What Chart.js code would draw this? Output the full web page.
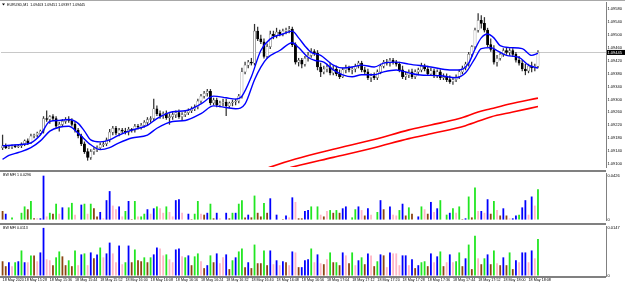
<!DOCTYPE html>
<html>
<head>
<meta charset="utf-8">
<script src="https://cdn.jsdelivr.net/npm/chart.js@4.4.0/dist/chart.umd.min.js"></script>
<style>
html, body { margin: 0; padding: 0; background: #fff; }
#wrap { position: relative; width: 625px; height: 285px; overflow: hidden; }
#wrap canvas { position: absolute; left: 0; }
.sep { position: absolute; left: 0; width: 606px; height: 2px; background: #808080; }
</style>
</head>
<body>
<div id="wrap">
  <canvas id="main" width="625" height="170" style="top:0"></canvas>
  <canvas id="mfi1" width="625" height="52" style="top:171px"></canvas>
  <canvas id="mfi2" width="625" height="61" style="top:224px"></canvas>
  <div class="sep" style="top:0;height:1px;width:625px;background:#a8a8a8"></div>
  <div class="sep" style="top:170px"></div>
  <div class="sep" style="top:223px"></div>
  <div class="sep" style="top:276px"></div>
</div>
<script>
// EURUSD M1, 18 May 2020, one candle per minute from 15:21
const openP = [1.09151,1.09157,1.09151,1.09154,1.09157,1.09154,1.09157,1.09163,1.09172,1.09166,
1.09187,1.09190,1.09196,1.09202,1.09241,1.09238,1.09247,1.09241,1.09217,1.09223,
1.09232,1.09238,1.09235,1.09223,1.09205,1.09187,1.09163,1.09139,1.09121,1.09139,
1.09145,1.09151,1.09160,1.09163,1.09175,1.09199,1.09211,1.09196,1.09205,1.09202,
1.09199,1.09208,1.09205,1.09217,1.09214,1.09220,1.09229,1.09238,1.09241,1.09271,
1.09256,1.09250,1.09256,1.09244,1.09247,1.09253,1.09259,1.09247,1.09253,1.09259,
1.09265,1.09271,1.09277,1.09295,1.09310,1.09319,1.09325,1.09289,1.09298,1.09283,
1.09289,1.09292,1.09280,1.09289,1.09292,1.09295,1.09310,1.09385,1.09406,1.09415,
1.09412,1.09511,1.09487,1.09478,1.09433,1.09463,1.09502,1.09496,1.09508,1.09502,
1.09511,1.09514,1.09517,1.09469,1.09415,1.09421,1.09409,1.09427,1.09436,1.09448,
1.09442,1.09400,1.09385,1.09394,1.09400,1.09382,1.09394,1.09379,1.09370,1.09391,
1.09397,1.09391,1.09394,1.09403,1.09412,1.09391,1.09385,1.09367,1.09373,1.09367,
1.09385,1.09403,1.09415,1.09412,1.09421,1.09415,1.09409,1.09391,1.09370,1.09376,
1.09385,1.09370,1.09385,1.09391,1.09403,1.09394,1.09379,1.09388,1.09373,1.09385,
1.09367,1.09370,1.09361,1.09355,1.09361,1.09370,1.09385,1.09397,1.09409,1.09439,
1.09463,1.09514,1.09544,1.09535,1.09514,1.09469,1.09454,1.09415,1.09427,1.09439,
1.09451,1.09445,1.09451,1.09439,1.09421,1.09412,1.09394,1.09388,1.09403,1.09397,
1.09403];
const highP = [1.09190,1.09163,1.09157,1.09160,1.09160,1.09160,1.09166,1.09175,1.09178,1.09193,
1.09193,1.09199,1.09205,1.09247,1.09265,1.09250,1.09253,1.09247,1.09229,1.09238,
1.09244,1.09247,1.09241,1.09229,1.09211,1.09193,1.09169,1.09148,1.09145,1.09151,
1.09157,1.09166,1.09169,1.09181,1.09208,1.09217,1.09217,1.09211,1.09211,1.09211,
1.09214,1.09211,1.09223,1.09223,1.09226,1.09235,1.09244,1.09247,1.09301,1.09280,
1.09265,1.09262,1.09265,1.09256,1.09259,1.09265,1.09268,1.09259,1.09265,1.09271,
1.09277,1.09283,1.09301,1.09316,1.09325,1.09331,1.09331,1.09304,1.09304,1.09295,
1.09301,1.09301,1.09292,1.09298,1.09301,1.09316,1.09397,1.09415,1.09421,1.09427,
1.09532,1.09523,1.09499,1.09487,1.09472,1.09511,1.09511,1.09520,1.09514,1.09517,
1.09520,1.09526,1.09523,1.09475,1.09427,1.09427,1.09433,1.09445,1.09457,1.09454,
1.09451,1.09412,1.09403,1.09409,1.09412,1.09403,1.09403,1.09391,1.09397,1.09406,
1.09403,1.09400,1.09409,1.09418,1.09418,1.09400,1.09394,1.09379,1.09382,1.09391,
1.09409,1.09421,1.09424,1.09427,1.09427,1.09421,1.09415,1.09403,1.09385,1.09391,
1.09394,1.09391,1.09397,1.09412,1.09409,1.09403,1.09397,1.09394,1.09391,1.09391,
1.09379,1.09379,1.09373,1.09367,1.09376,1.09391,1.09403,1.09415,1.09445,1.09466,
1.09520,1.09565,1.09559,1.09553,1.09520,1.09487,1.09466,1.09436,1.09445,1.09457,
1.09460,1.09457,1.09457,1.09445,1.09433,1.09421,1.09409,1.09409,1.09415,1.09409,
1.09451];
const lowP = [1.09145,1.09148,1.09148,1.09148,1.09151,1.09151,1.09151,1.09157,1.09160,1.09163,
1.09181,1.09184,1.09190,1.09196,1.09232,1.09226,1.09235,1.09211,1.09202,1.09217,
1.09226,1.09229,1.09217,1.09199,1.09181,1.09157,1.09133,1.09112,1.09115,1.09130,
1.09139,1.09145,1.09154,1.09157,1.09169,1.09190,1.09190,1.09187,1.09196,1.09193,
1.09190,1.09199,1.09199,1.09208,1.09208,1.09214,1.09220,1.09229,1.09235,1.09250,
1.09241,1.09241,1.09238,1.09223,1.09238,1.09244,1.09241,1.09235,1.09247,1.09253,
1.09259,1.09265,1.09271,1.09289,1.09304,1.09310,1.09283,1.09283,1.09277,1.09277,
1.09280,1.09250,1.09274,1.09280,1.09283,1.09289,1.09304,1.09379,1.09397,1.09406,
1.09406,1.09481,1.09472,1.09427,1.09427,1.09457,1.09487,1.09490,1.09496,1.09496,
1.09502,1.09505,1.09463,1.09409,1.09403,1.09397,1.09403,1.09418,1.09430,1.09436,
1.09391,1.09370,1.09379,1.09385,1.09376,1.09376,1.09373,1.09364,1.09367,1.09382,
1.09385,1.09379,1.09385,1.09397,1.09385,1.09379,1.09361,1.09355,1.09361,1.09361,
1.09379,1.09397,1.09406,1.09403,1.09409,1.09403,1.09385,1.09364,1.09361,1.09367,
1.09364,1.09364,1.09376,1.09385,1.09388,1.09373,1.09373,1.09367,1.09367,1.09361,
1.09361,1.09355,1.09349,1.09346,1.09355,1.09364,1.09379,1.09391,1.09403,1.09433,
1.09457,1.09508,1.09520,1.09508,1.09463,1.09448,1.09409,1.09403,1.09421,1.09433,
1.09439,1.09436,1.09433,1.09415,1.09406,1.09388,1.09376,1.09382,1.09385,1.09388,
1.09397];
const closeP = [1.09157,1.09151,1.09154,1.09157,1.09154,1.09157,1.09163,1.09172,1.09166,1.09187,
1.09190,1.09196,1.09202,1.09241,1.09238,1.09247,1.09241,1.09217,1.09223,1.09232,
1.09238,1.09235,1.09223,1.09205,1.09187,1.09163,1.09139,1.09121,1.09139,1.09145,
1.09151,1.09160,1.09163,1.09175,1.09199,1.09211,1.09196,1.09205,1.09202,1.09199,
1.09208,1.09205,1.09217,1.09214,1.09220,1.09229,1.09238,1.09241,1.09271,1.09256,
1.09250,1.09256,1.09244,1.09247,1.09253,1.09259,1.09247,1.09253,1.09259,1.09265,
1.09271,1.09277,1.09295,1.09310,1.09319,1.09325,1.09289,1.09298,1.09283,1.09289,
1.09292,1.09280,1.09289,1.09292,1.09295,1.09310,1.09385,1.09406,1.09415,1.09412,
1.09511,1.09487,1.09478,1.09433,1.09463,1.09502,1.09496,1.09508,1.09502,1.09511,
1.09514,1.09517,1.09469,1.09415,1.09421,1.09409,1.09427,1.09436,1.09448,1.09442,
1.09400,1.09385,1.09394,1.09400,1.09382,1.09394,1.09379,1.09370,1.09391,1.09397,
1.09391,1.09394,1.09403,1.09412,1.09391,1.09385,1.09367,1.09373,1.09367,1.09385,
1.09403,1.09415,1.09412,1.09421,1.09415,1.09409,1.09391,1.09370,1.09376,1.09385,
1.09370,1.09385,1.09391,1.09403,1.09394,1.09379,1.09388,1.09373,1.09385,1.09367,
1.09370,1.09361,1.09355,1.09361,1.09370,1.09385,1.09397,1.09409,1.09439,1.09463,
1.09514,1.09544,1.09535,1.09514,1.09469,1.09454,1.09415,1.09427,1.09439,1.09451,
1.09445,1.09451,1.09439,1.09421,1.09412,1.09394,1.09388,1.09403,1.09397,1.09403,
1.09445];

// blue envelope, read at the candle indices listed
const envUpIdx = [0,5,9,12,15,18,21,24,26,28,31,34,37,41,46,49,54,58,63,67,71,74,76,79,82,85,89,92,94,96,98,101,103,105,108,111,114,118,121,125,129,136,142,145,148,150,152,154,156,158,161,165,168,170];
const envUp = [1.09157,1.09160,1.09166,1.09190,1.09232,1.09235,1.09238,1.09226,1.09202,1.09175,1.09169,1.09175,1.09190,1.09205,1.09220,1.09241,1.09262,1.09265,1.09286,1.09310,1.09305,1.09301,1.09310,1.09370,1.09451,1.09487,1.09502,1.09511,1.09490,1.09465,1.09445,1.09436,1.09421,1.09406,1.09397,1.09400,1.09406,1.09400,1.09412,1.09415,1.09409,1.09400,1.09391,1.09391,1.09412,1.09455,1.09490,1.09502,1.09490,1.09466,1.09460,1.09457,1.09436,1.09442];
const envLoIdx = [0,2,5,9,12,15,18,21,24,28,31,34,37,41,46,49,54,58,63,67,71,74,77,80,82,84,88,92,94,97,99,102,105,108,111,114,118,121,125,129,132,139,144,147,150,152,155,157,160,164,167,170];
const envLo = [1.09115,1.09127,1.09136,1.09151,1.09172,1.09202,1.09214,1.09217,1.09196,1.09160,1.09145,1.09151,1.09166,1.09181,1.09190,1.09211,1.09232,1.09235,1.09256,1.09280,1.09275,1.09271,1.09286,1.09361,1.09400,1.09427,1.09451,1.09475,1.09460,1.09430,1.09421,1.09415,1.09391,1.09376,1.09370,1.09376,1.09376,1.09385,1.09391,1.09382,1.09376,1.09373,1.09367,1.09382,1.09427,1.09457,1.09460,1.09451,1.09436,1.09430,1.09406,1.09397];

// red slow averages
const slowUpIdx = [80,85,93,105,118,129,136,145,151,155,161,170];
const slowUp = [1.09073,1.09091,1.09116,1.09146,1.09176,1.09206,1.09221,1.09241,1.09261,1.09271,1.09286,1.09304];
const slowLoIdx = [86,92,105,118,129,137,147,155,162,170];
const slowLo = [1.09073,1.09091,1.09121,1.09151,1.09179,1.09196,1.09219,1.09246,1.09261,1.09278];

// BW MFI panes: value and bar state (G green, F fade, B fake, S squat, . none)
const mfi1 = [0.0087,0.0061,0,0.0026,0,0,0.0070,0.0131,0.0104,0.0183,
0.0017,0.0017,0.0017,0.0426,0.0035,0.0070,0.0061,0.0157,0.0061,0.0122,
0,0.0122,0.0165,0.0052,0,0.0148,0.0157,0.0061,0.0157,0.0113,
0.0035,0.0078,0.0017,0.0191,0.0278,0.0139,0.0104,0.0131,0.0035,0.0087,
0.0183,0.0009,0.0183,0.0035,0.0035,0.0061,0.0104,0.0061,0.0113,0.0131,
0.0113,0.0070,0.0131,0.0078,0.0035,0.0191,0.0200,0.0070,0,0.0061,
0.0009,0.0061,0.0183,0.0061,0.0052,0.0070,0.0157,0.0017,0.0070,0.0017,
0,0.0070,0.0017,0.0070,0.0070,0.0157,0.0191,0.0026,0.0052,0.0026,
0.0235,0.0070,0.0035,0.0165,0.0070,0.0209,0,0.0052,0,0.0009,
0.0044,0.0026,0.0218,0.0174,0.0017,0.0017,0.0087,0.0096,0.0131,0,
0.0131,0.0052,0.0035,0.0087,0.0096,0.0070,0.0096,0.0070,0.0113,0.0131,
0,0.0026,0.0104,0.0131,0.0096,0.0044,0.0113,0.0052,0,0.0078,
0.0191,0.0104,0,0.0131,0.0052,0.0044,0.0096,0.0157,0.0044,0.0122,
0.0061,0,0.0035,0.0131,0.0104,0.0061,0.0174,0.0078,0.0113,0.0191,
0,0.0052,0.0070,0.0113,0.0070,0.0131,0.0009,0.0017,0.0226,0.0026,
0.0313,0.0087,0.0087,0.0070,0.0200,0.0061,0.0183,0.0096,0.0044,0.0113,
0.0044,0.0017,0.0017,0.0044,0.0052,0.0122,0.0191,0.0052,0.0226,0.0139,
0.0296];
const mfi1State = ("FB.G..GGFG" + "FSBBSGFGSB" + ".GGS.BGSGF" + "FBSBBSSBSG" + "BFGSGGBSBG" +
  "SSGSSBBS.B" + "FGGSFBGFBS" + ".BFGBGGFBF" + "GFFGFB.B.F" + "BSBSFFBBG." +
  "GSFSGFGFBB" + ".GGBSFBS.G" + "BF.BSSGBFG" + "F.BGSFBSBG" + ".GBGSGFBGF" +
  "GSBSBFGSFB" + "FSBBGBBSBS" + "G").split("");
const mfi2 = [0.0045,0.0030,0.0042,0.0030,0.0042,0.0045,0.0078,0.0042,0.0042,0.0063,
0.0063,0.0045,0.0072,0.0147,0.0051,0.0048,0.0033,0.0057,0.0075,0.0060,
0.0033,0.0048,0.0030,0.0078,0.0033,0.0066,0.0069,0.0033,0.0072,0.0054,
0.0066,0.0087,0.0057,0.0069,0.0102,0.0069,0.0042,0.0093,0.0036,0.0042,
0.0093,0.0042,0.0081,0.0048,0.0045,0.0057,0.0042,0.0057,0.0066,0.0087,
0.0084,0.0063,0.0066,0.0051,0.0042,0.0081,0.0084,0.0060,0.0057,0.0063,
0.0033,0.0060,0.0069,0.0045,0.0024,0.0033,0.0063,0.0042,0.0069,0.0039,
0.0057,0.0066,0.0021,0.0048,0.0057,0.0075,0.0084,0.0027,0.0042,0.0024,
0.0096,0.0039,0.0039,0.0078,0.0033,0.0078,0.0036,0.0048,0.0033,0.0045,
0.0042,0.0033,0.0075,0.0072,0.0027,0.0027,0.0048,0.0051,0.0084,0.0042,
0.0066,0.0039,0.0036,0.0051,0.0072,0.0042,0.0042,0.0033,0.0072,0.0063,
0.0039,0.0072,0.0033,0.0048,0.0057,0.0036,0.0069,0.0063,0.0030,0.0045,
0.0066,0.0063,0.0027,0.0072,0.0069,0.0069,0.0033,0.0063,0.0063,0.0033,
0.0051,0.0024,0.0033,0.0042,0.0045,0.0030,0.0069,0.0042,0.0060,0.0075,
0.0030,0.0042,0.0066,0.0042,0.0045,0.0072,0.0030,0.0054,0.0096,0.0021,
0.0123,0.0054,0.0036,0.0054,0.0066,0.0036,0.0078,0.0039,0.0033,0.0057,
0.0033,0.0072,0.0021,0.0048,0.0042,0.0072,0.0072,0.0042,0.0078,0.0054,
0.0113];
const mfi2State = ("FFBSGBGBSG" + "FSBBSSFGGF" + "FGFGSBGSBF" + "BGSBBSSBSG" + "BFGFFGFGBB" +
  "SSGSSBBSGB" + "FGGSFBGFBS" + "SBFGBGGFBF" + "GFFGFBSBSB" + "FSBSFBBBGS" +
  "BSFSGFGFBS" + "FGSBGFBSFG" + "BFSBSSSBBS" + "BFBGGFBSBG" + "FSBSGGFBGF" +
  "GSFGBFGSFB" + "FGFBSBBSBS" + "G").split("");

// axis ticks
const priceTicks = [1.0958,1.0954,1.0950,1.0946,1.0942,1.0938,1.0934,1.0930,1.0926,1.0922,1.0918,1.0914,1.0910];
const mfi1Ticks = [0, 0.0426];
const mfi2Ticks = [0, 0.0147];
const timeIdx = [0,7,15,23,31,39,47,55,63,71,79,87,95,103,111,119,127,135,143,151,159,167];
const timeLabels = ["18 May 2020","18 May 15:28","18 May 15:36","18 May 15:44","18 May 15:52","18 May 16:00",
  "18 May 16:08","18 May 16:16","18 May 16:24","18 May 16:32","18 May 16:40","18 May 16:48","18 May 16:56",
  "18 May 17:04","18 May 17:12","18 May 17:20","18 May 17:28","18 May 17:36","18 May 17:44","18 May 17:52",
  "18 May 18:00","18 May 18:08"];

const X_MIN = -0.5, X_MAX = 191.6;
const FONT = "Liberation Sans";
const stateColor = { G: "#22e622", F: "#8b4513", B: "#0000ff", S: "#ffb6c6", ".": "rgba(0,0,0,0)" };
const last = closeP.length - 1;

Chart.defaults.font.family = FONT;
Chart.defaults.animation = false;
Chart.defaults.responsive = false;

const hiddenX = { type: "linear", min: X_MIN, max: X_MAX, offset: false, display: false };

function rightAxis(min, max, ticks, fmt) {
    return {
        position: "right", min: min, max: max,
        afterFit(s) { s.width = 19; },
        afterBuildTicks(s) { s.ticks = ticks.map(v => ({ value: v })); },
        ticks: { font: { size: 4 }, color: "#000", padding: 0.5, callback: fmt },
        grid: { drawOnChartArea: false, tickLength: 1, color: "#000" },
        border: { color: "#808080", width: 1 },
    };
}

function paneTitle(text) {
    return {
        id: "paneTitle",
        afterDraw(chart) {
            const ctx = chart.ctx;
            ctx.save();
            ctx.font = `3.6px "${FONT}"`;
            ctx.fillStyle = "#000";
            ctx.textBaseline = "middle";
            ctx.fillText(text, 3, 4);
            ctx.restore();
        },
    };
}

const priceLine = {
    id: "priceLine",
    beforeDatasetsDraw(chart) {
        const { ctx, chartArea, scales } = chart;
        const y = Math.round(scales.y.getPixelForValue(closeP[last])) + 0.5;
        ctx.save();
        ctx.strokeStyle = "#c8c8c8";
        ctx.lineWidth = 1;
        ctx.beginPath();
        ctx.moveTo(chartArea.left, y);
        ctx.lineTo(chartArea.right, y);
        ctx.stroke();
        ctx.restore();
    },
    afterDraw(chart) {
        const { ctx, chartArea, scales } = chart;
        const y = scales.y.getPixelForValue(closeP[last]);
        ctx.save();
        ctx.fillStyle = "#000";
        ctx.fillRect(chartArea.right + 1, y - 2.5, 18, 5);
        ctx.fillStyle = "#fff";
        ctx.font = `4px "${FONT}"`;
        ctx.textBaseline = "middle";
        ctx.fillText(closeP[last].toFixed(5), chartArea.right + 1.5, y);
        // header
        ctx.fillStyle = "#000";
        ctx.beginPath();
        ctx.moveTo(2, 3.5); ctx.lineTo(5, 3.5); ctx.lineTo(3.5, 5.5);
        ctx.fill();
        ctx.font = `3.6px "${FONT}"`;
        ctx.fillText(`EURUSD,M1  ${openP[last].toFixed(5)} ${highP[last].toFixed(5)} ${lowP[last].toFixed(5)} ${closeP[last].toFixed(5)}`, 7, 5);
        ctx.restore();
    },
};

const idx = closeP.map((_, i) => i);

new Chart(document.getElementById("main"), {
    type: "bar",
    data: {
        datasets: [
            {
                type: "line", order: 0,
                data: envUpIdx.map((k, j) => ({ x: k, y: envUp[j] })),
                borderColor: "#0000ff", borderWidth: 1.4, pointRadius: 0, cubicInterpolationMode: "monotone",
            },
            {
                type: "line", order: 0,
                data: envLoIdx.map((k, j) => ({ x: k, y: envLo[j] })),
                borderColor: "#0000ff", borderWidth: 1.4, pointRadius: 0, cubicInterpolationMode: "monotone",
            },
            {
                type: "line", order: 0,
                data: slowUpIdx.map((k, j) => ({ x: k, y: slowUp[j] })),
                borderColor: "#ff0000", borderWidth: 1.6, pointRadius: 0, cubicInterpolationMode: "monotone",
            },
            {
                type: "line", order: 0,
                data: slowLoIdx.map((k, j) => ({ x: k, y: slowLo[j] })),
                borderColor: "#ff0000", borderWidth: 1.6, pointRadius: 0, cubicInterpolationMode: "monotone",
            },
            {
                order: 1, grouped: false,
                data: idx.map(i => ({ x: i, y: [openP[i], closeP[i]] })),
                backgroundColor: idx.map(i => (closeP[i] >= openP[i] ? "#ffffff" : "#000000")),
                borderColor: idx.map(i => (closeP[i] >= openP[i] ? "#555555" : "#000000")),
                borderWidth: 0.5, borderSkipped: false, barThickness: 2.2,
            },
            {
                order: 2, grouped: false,
                data: idx.map(i => ({ x: i, y: [lowP[i], highP[i]] })),
                backgroundColor: "#333", barThickness: 0.6,
            },
        ],
    },
    options: {
        layout: { padding: { left: 1, top: 1, right: 0, bottom: 0 } },
        plugins: { legend: { display: false }, tooltip: { enabled: false } },
        scales: {
            x: hiddenX,
            y: rightAxis(1.09091, 1.09598, priceTicks, v => v.toFixed(5)),
        },
    },
    plugins: [priceLine],
});

function mfiChart(id, values, states, max, ticks, withTime, title) {
    const scales = {
        x: withTime ? {
            type: "linear", min: X_MIN, max: X_MAX, offset: false,
            afterFit(s) { s.height = 9; },
            afterBuildTicks(s) { s.ticks = timeIdx.map(v => ({ value: v })); },
            ticks: { autoSkip: false, maxRotation: 0, minRotation: 0, align: "start", padding: 0,
                     font: { size: 3.7 }, color: "#000", callback: (v, i) => timeLabels[i] },
            grid: { drawOnChartArea: false, tickLength: 2, color: "#000" },
            border: { display: false },
        } : hiddenX,
        y: rightAxis(0, max, ticks, v => (v === 0 ? "0" : v.toFixed(4))),
    };
    return new Chart(document.getElementById(id), {
        type: "bar",
        data: {
            datasets: [{
                data: values.map((v, i) => ({ x: i, y: v })),
                backgroundColor: states.map(s => stateColor[s]),
                barThickness: 1.8,
                inflateAmount: 0,
            }],
        },
        options: {
            layout: { padding: { left: 1, top: withTime ? 2 : 1, right: 0, bottom: 0 } },
            plugins: { legend: { display: false }, tooltip: { enabled: false } },
            scales: scales,
        },
        plugins: [paneTitle(title)],
    });
}

mfiChart("mfi1", mfi1, mfi1State, 0.0443, mfi1Ticks, false, `BW MFI 1 ${mfi1[last].toFixed(4)}`);
mfiChart("mfi2", mfi2, mfi2State, 0.0150, mfi2Ticks, true, `BW MFI ${mfi2[last].toFixed(4)}`);
</script>
</body>
</html>
